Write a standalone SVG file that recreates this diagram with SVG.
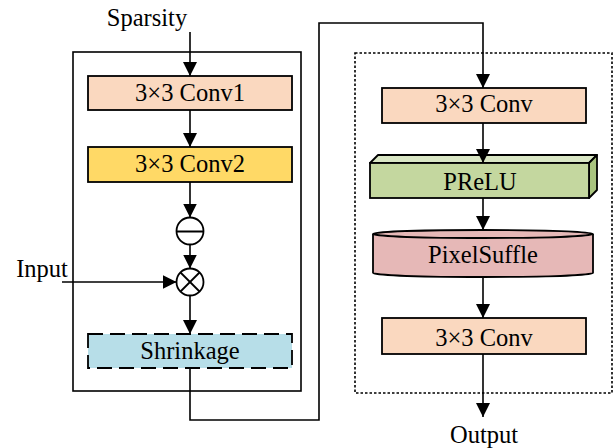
<svg xmlns="http://www.w3.org/2000/svg" width="615" height="448" viewBox="0 0 615 448">
<style>
.t{font-family:'Liberation Serif','Tinos','Times New Roman','DejaVu Serif',serif;font-size:24.5px;fill:#000;text-anchor:middle}
.box{stroke:#000;stroke-width:1.8}
.ln{fill:none;stroke:#000;stroke-width:1.6}
</style>
<defs>
<marker id="ah" markerUnits="userSpaceOnUse" markerWidth="14" markerHeight="16" refX="14" refY="7" orient="auto">
<path d="M0,0 L14,7 L0,14 Z" fill="#000"/>
</marker>
</defs>
<rect x="0" y="0" width="615" height="448" fill="#fff"/>
<g id="frames">
<rect id="left-frame" x="73" y="52" width="228" height="339" fill="none" stroke="#000" stroke-width="1.6"/>
<rect id="right-frame" x="355" y="53" width="257" height="340" fill="none" stroke="#000" stroke-width="1.6" stroke-dasharray="2.5 2"/>
</g>
<g id="conv1"><rect class="box" x="88" y="76" width="204" height="34" fill="#FAD8BF"/><text class="t" x="190" y="101" font-family="Liberation Serif, serif">3×3 Conv1</text></g>
<g id="conv2"><rect class="box" x="88" y="147" width="204" height="35" fill="#FFD966"/><text class="t" x="190" y="172">3×3 Conv2</text></g>
<g id="minus"><circle cx="190" cy="231" r="13.5" fill="#fff" stroke="#000" stroke-width="1.8"/><line x1="176.5" y1="231.5" x2="203.5" y2="231.5" stroke="#000" stroke-width="2"/></g>
<g id="times"><circle cx="190" cy="282" r="13.5" fill="#fff" stroke="#000" stroke-width="1.8"/><line x1="180.5" y1="272.5" x2="199.5" y2="291.5" stroke="#000" stroke-width="1.8"/><line x1="199.5" y1="272.5" x2="180.5" y2="291.5" stroke="#000" stroke-width="1.8"/></g>
<g id="shrinkage"><rect x="88" y="334" width="204" height="34" fill="#B7DEE8" stroke="#000" stroke-width="1.8" stroke-dasharray="15 7"/><text class="t" x="190" y="359">Shrinkage</text></g>
<g id="sparsity"><text class="t" x="147" y="26">Sparsity</text></g>
<g id="input"><text class="t" x="42" y="277">Input</text></g>
<g id="conv-a"><rect class="box" x="382" y="88" width="204" height="35" fill="#FAD8BF"/><text class="t" x="484" y="112">3×3 Conv</text></g>
<g id="prelu">
<path d="M370,163 L378,155 L597,155 L589,163 Z" fill="#D9E6C4" stroke="#000" stroke-width="1.8" stroke-linejoin="round"/>
<path d="M589,163 L597,155 L597,190 L589,198 Z" fill="#A9C47F" stroke="#000" stroke-width="1.8" stroke-linejoin="round"/>
<rect class="box" x="370" y="163" width="219" height="35" fill="#C4D79F"/>
<text class="t" x="480" y="190">PReLU</text>
</g>
<g id="pixelsuffle">
<path d="M373,234 L373,273 A110,4 0 0 0 593,273 L593,234" fill="#E6B8B7" stroke="#000" stroke-width="1.8"/>
<ellipse cx="483" cy="234" rx="110" ry="4" fill="#E6B8B7" stroke="#000" stroke-width="1.8"/>
<text class="t" x="483" y="263">PixelSuffle</text>
</g>
<g id="conv-b"><rect class="box" x="382" y="318" width="204" height="36" fill="#FAD8BF"/><text class="t" x="484" y="346">3×3 Conv</text></g>
<g id="output"><text class="t" x="484" y="443">Output</text></g>
<g id="connectors">
<line class="ln" x1="190" y1="32" x2="190" y2="76" marker-end="url(#ah)"/>
<line class="ln" x1="190" y1="110" x2="190" y2="147" marker-end="url(#ah)"/>
<line class="ln" x1="190" y1="182" x2="190" y2="217.5" marker-end="url(#ah)"/>
<line class="ln" x1="190" y1="244.5" x2="190" y2="268.5" marker-end="url(#ah)"/>
<line class="ln" x1="62" y1="282" x2="176.5" y2="282" marker-end="url(#ah)"/>
<line class="ln" x1="190" y1="295.5" x2="190" y2="334" marker-end="url(#ah)"/>
<polyline class="ln" points="190,368 190,420 319,420 319,23 483,23 483,88" marker-end="url(#ah)"/>
<line class="ln" x1="483" y1="123" x2="483" y2="163" marker-end="url(#ah)"/>
<line class="ln" x1="483" y1="198" x2="483" y2="230" marker-end="url(#ah)"/>
<line class="ln" x1="483" y1="277" x2="483" y2="318" marker-end="url(#ah)"/>
<line class="ln" x1="483" y1="354" x2="483" y2="417" marker-end="url(#ah)"/>
</g>
</svg>
